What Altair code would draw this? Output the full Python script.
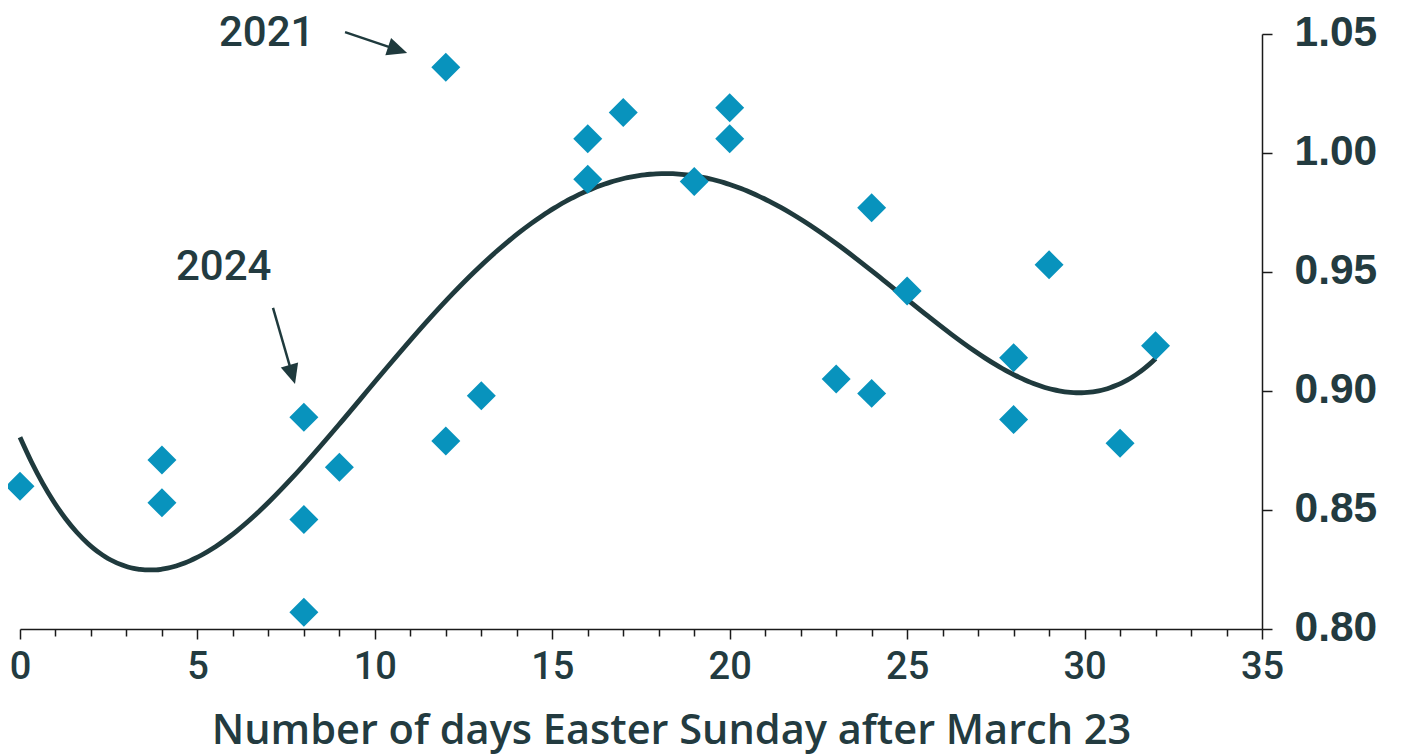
import math
import altair as alt
import pandas as pd

# ---- data ----
days = [0, 4, 4, 8, 8, 8, 9, 12, 12, 13, 16, 16, 17, 19, 20, 20, 23, 24, 24, 25, 28, 28, 29, 31, 32]
ratio = [0.860, 0.871, 0.853, 0.889, 0.846, 0.807, 0.868, 1.036, 0.879, 0.898,
         1.006, 0.989, 1.017, 0.988, 1.019, 1.006, 0.905, 0.977, 0.899, 0.942,
         0.914, 0.888, 0.953, 0.878, 0.919]

x_ticks = list(range(0, 36))
y_ticks = [0.80, 0.85, 0.90, 0.95, 1.00, 1.05]

note_text = ["2021", "2024"]
note_x = [6.95, 5.74]
note_y = [1.0504, 0.952]
arrow_x0 = [9.16, 7.13]
arrow_y0 = [1.0508, 0.9349]
arrow_x1 = [10.91, 7.75]
arrow_y1 = [1.0420, 0.9029]

# ---- layout ----
W, H = 1242, 595
XMAX, YMIN, YMAX = 35, 0.80, 1.05
px_x = W / XMAX
px_y = H / (YMAX - YMIN)

TEXT = "#233b40"
AXIS = "#1a1a1a"
POINT = "#0893bd"
CURVE = "#1f3a3d"

pts = pd.DataFrame({"x": days, "y": ratio})

notes = pd.DataFrame({"t": note_text, "x": note_x, "y": note_y})

rows = []
for a, b, c, d in zip(arrow_x0, arrow_y0, arrow_x1, arrow_y1):
    dx = (c - a) * px_x
    dy = -(d - b) * px_y
    n = math.hypot(dx, dy)
    ux, uy = dx / n, dy / n
    ang = math.degrees(math.atan2(dx, -dy)) % 360
    ex = c - 10 * ux / px_x
    ey = d + 10 * uy / px_y
    rows.append({"x": a, "y": b, "xe": ex, "ye": ey, "xt": c, "yt": d, "ang": ang})
arrows = pd.DataFrame(rows)

xscale = alt.Scale(domain=[0, XMAX], nice=False, zero=False)
yscale = alt.Scale(domain=[YMIN, YMAX], nice=False, zero=False)

x_axis = alt.Axis(
    values=x_ticks,
    labelExpr="datum.value % 5 === 0 ? datum.label : ''",
    tickSize={"condition": {"test": "datum.value % 5 === 0", "value": 10}, "value": 7},
    tickColor=AXIS, tickWidth=1.5, domainColor=AXIS, domainWidth=1.5,
    grid=False, labelFont="Roboto", labelFontWeight=500, labelFontSize=38,
    labelColor=TEXT, labelPadding=9, labelFlush=False, labelOverlap=False,
    title="Number of days Easter Sunday after March 23",
    titleFont="Open Sans", titleFontWeight=600, titleFontSize=41.5, titleColor=TEXT,
    titlePadding=24, titleX=651, titleAlign="center",
)
y_axis = alt.Axis(
    orient="right", values=y_ticks, format=".2f",
    tickSize=10, tickColor=AXIS, tickWidth=1.5, domainColor=AXIS, domainWidth=1.5,
    grid=False, labelFont="Liberation Sans", labelFontWeight="bold", labelFontSize=42.5,
    labelColor=TEXT, labelPadding=22, labelOffset=-2, labelFlush=False,
    labelOverlap=False, title=None,
)


def X(field):
    return alt.X(field, type="quantitative", scale=xscale, axis=x_axis)


def Y(field):
    return alt.Y(field, type="quantitative", scale=yscale, axis=y_axis)


points = alt.Chart(pts).mark_point(
    shape="diamond", filled=True, size=840, color=POINT, opacity=1
).encode(x=X("x"), y=Y("y"))

curve = alt.Chart(pts).transform_regression(
    "x", "y", method="poly", order=4, extent=[0, 32]
).mark_line(color=CURVE, strokeWidth=4.8, interpolate="monotone").encode(
    x=X("x"), y=Y("y")
)

labels = alt.Chart(notes).mark_text(
    font="Roboto", fontWeight=500, fontSize=42, color=TEXT, align="center",
    baseline="middle",
).encode(x=X("x"), y=Y("y"), text="t:N")

shafts = alt.Chart(arrows).mark_rule(color=CURVE, strokeWidth=2.5).encode(
    x=X("x"), y=Y("y"), x2="xe:Q", y2="ye:Q",
)

heads = alt.Chart(arrows).mark_point(
    shape="M0,0L0.9,2L-0.9,2Z", filled=True, size=400, color=CURVE, opacity=1,
).encode(
    x=alt.X("xt:Q", scale=xscale, axis=x_axis),
    y=alt.Y("yt:Q", scale=yscale, axis=y_axis),
    angle=alt.Angle("ang:Q", scale=None),
)

chart = alt.layer(curve, points, labels, shafts, heads).properties(
    width=W, height=H,
    autosize=alt.AutoSizeParams(type="none"),
    padding={"left": 12, "top": 26, "right": 128, "bottom": 135},
).configure(background="white").configure_view(stroke=None)

chart.save("out.html", embed_options={"renderer": "svg", "actions": False})
